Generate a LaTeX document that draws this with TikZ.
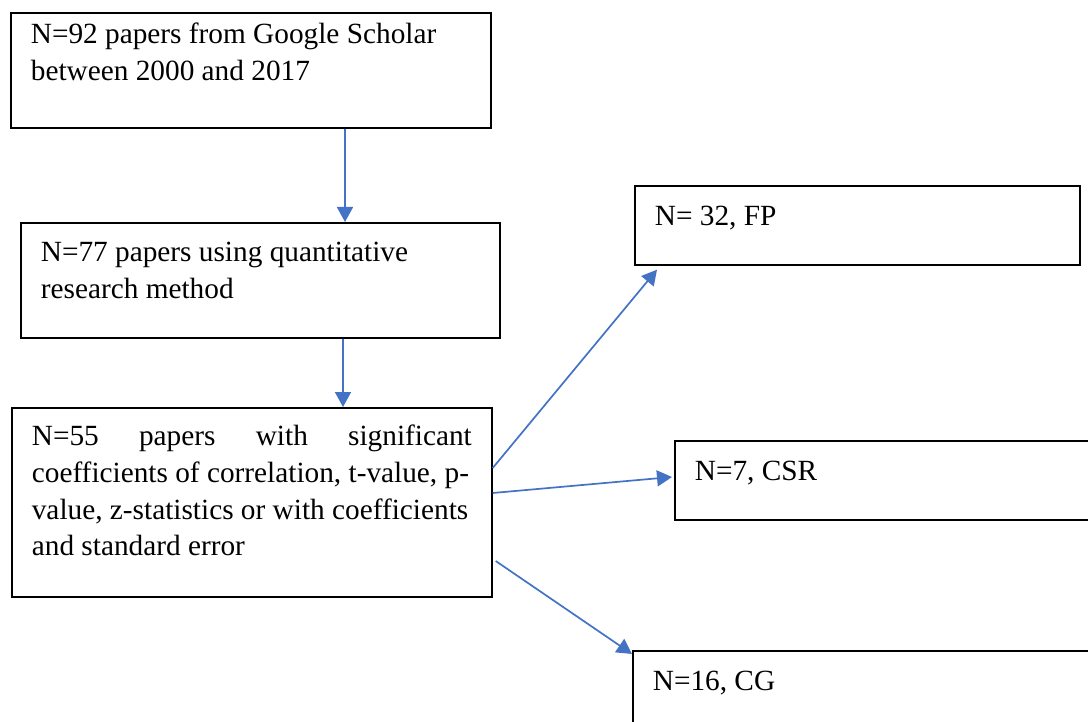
\documentclass[tikz,border=0pt]{standalone}
\usepackage{fontspec}
\setmainfont{Liberation Serif}[Ligatures=NoCommon]
\usetikzlibrary{arrows.meta}

\definecolor{arrowblue}{RGB}{68,114,196}

% box text: width W, height H, first baseline D below the top
\newcommand{\boxtext}[4]{%
  \parbox[b][#2][t]{\dimexpr#1-40pt\relax}{\rule{0pt}{#3}#4}}

\begin{document}
\begin{tikzpicture}[x=1pt,y=-1pt,
  flowbox/.style={draw=black, line width=1.7pt, inner xsep=20pt, inner ysep=0pt,
    anchor=north west, font=\fontsize{29.3}{36.7}\selectfont},
  arr/.style={draw=arrowblue, line width=1.7pt,
    -{Triangle[length=15pt,width=16pt]}}]

\useasboundingbox (0,0) rectangle (1088,722);
\clip (0,0) rectangle (1088,722);
\fill[white] (0,0) rectangle (1088,722);

% left column
\node[flowbox] (b1) at (10,12) {\boxtext{480pt}{115pt}{31pt}{N=92 papers from Google Scholar\\between 2000 and 2017}};
\node[flowbox] (b2) at (20,222) {\boxtext{479pt}{115pt}{39pt}{N=77 papers using quantitative\\research method}};
\node[flowbox] (b3) at (11,407) {\boxtext{480pt}{189pt}{38pt}{N=55\hfill papers\hfill with\hfill significant\\coefficients of correlation, t-value, p-\\value, z-statistics or with coefficients\\and standard error}};

% right column
\node[flowbox] (fp) at (634,185) {\boxtext{445pt}{79pt}{40pt}{N= 32, FP}};
\node[flowbox] (csr) at (674,440) {\boxtext{440pt}{79pt}{40pt}{N=7, CSR}};
\node[flowbox] (cg) at (632,650) {\boxtext{470pt}{100pt}{40pt}{N=16, CG}};

% connectors
\draw[arr] ([xshift=335pt]b1.south west) -- ([xshift=325pt]b2.north west);
\draw[arr] ([xshift=323pt]b2.south west) -- ([xshift=332pt]b3.north west);
\draw[arr] ([yshift=-61pt]b3.north east) -- ([xshift=23pt,yshift=-4pt]fp.south west);
\draw[arr] ([yshift=-86pt]b3.north east) -- ([xshift=-2pt,yshift=-37pt]csr.north west);
\draw[arr] ([xshift=3pt,yshift=-154pt]b3.north east) -- ([yshift=-4pt]cg.north west);
\end{tikzpicture}
\end{document}
